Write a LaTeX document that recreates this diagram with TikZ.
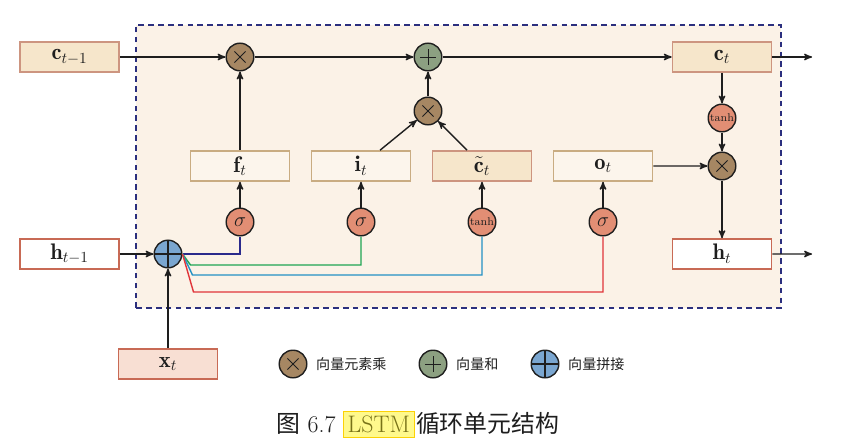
\documentclass[tikz,border=0pt]{standalone}
\usepackage{amsmath,amssymb}
\usepackage{fontspec}
\newfontfamily\cjk{Noto Sans CJK SC}
\usetikzlibrary{shapes,arrows,positioning,calc}
\definecolor{cellbg}{HTML}{FBF2E7}
\definecolor{navydash}{HTML}{2B2F7E}
\definecolor{statefill}{HTML}{F6E6CB}
\definecolor{stateedge}{HTML}{CD9580}
\definecolor{gatefill}{HTML}{FCF5EC}
\definecolor{gateedge}{HTML}{C9AC82}
\definecolor{hidedge}{HTML}{C86A55}
\definecolor{xfill}{HTML}{F8DFD3}
\definecolor{multfill}{HTML}{A68763}
\definecolor{addfill}{HTML}{8CA081}
\definecolor{catfill}{HTML}{7AA6D0}
\definecolor{actfill}{HTML}{E28E74}
\definecolor{fline}{HTML}{2A2A8C}
\definecolor{iline}{HTML}{1FA552}
\definecolor{gline}{HTML}{2391C4}
\definecolor{oline}{HTML}{E0353A}
\definecolor{inkc}{HTML}{1E1E1E}
\tikzstyle{box} = [rectangle, draw, line width=1.1pt, minimum width=2.475cm, minimum height=0.75cm, font=\fontsize{16}{18}\selectfont]
\tikzstyle{statebox} = [box, draw=stateedge, fill=statefill]
\tikzstyle{gatebox} = [box, draw=gateedge, fill=gatefill]
\tikzstyle{hidbox} = [box, draw=hidedge, fill=white]
\tikzstyle{op} = [circle, draw=inkc, line width=1pt, minimum size=0.69cm, inner sep=0pt]
\tikzstyle{mult} = [op, fill=multfill, path picture={
    \draw[inkc, line width=0.6pt] ($(path picture bounding box.center)+(-0.14,-0.14)$) -- ($(path picture bounding box.center)+(0.14,0.14)$)
    ($(path picture bounding box.center)+(-0.14,0.14)$) -- ($(path picture bounding box.center)+(0.14,-0.14)$);}]
\tikzstyle{addop} = [op, fill=addfill, path picture={
    \draw[inkc, line width=0.7pt] ($(path picture bounding box.center)+(-0.2,0)$) -- ($(path picture bounding box.center)+(0.2,0)$)
    ($(path picture bounding box.center)+(0,-0.2)$) -- ($(path picture bounding box.center)+(0,0.2)$);}]
\tikzstyle{concat} = [op, fill=catfill, path picture={
    \draw[inkc, line width=1pt] (path picture bounding box.west) -- (path picture bounding box.east)
    (path picture bounding box.south) -- (path picture bounding box.north);}]
\tikzstyle{act} = [op, fill=actfill, font=\fontsize{15}{17}\selectfont]
\tikzstyle{tanhop} = [act, font=\fontsize{8}{9}\selectfont]
\tikzstyle{legend} = [font=\cjk\fontsize{10}{12}\selectfont, text=inkc, inner sep=0pt]
\tikzstyle{output} = [coordinate]

\begin{document}
\begin{tikzpicture}[auto, node distance=3.025cm, >=stealth', line width=1pt, inkc]
    \useasboundingbox (0,0) rectangle (21.2,11.1);
    % 单元背景
    \draw[navydash, fill=cellbg, line width=1.4pt, dash pattern=on 4pt off 3pt] (3.4,3.4) rectangle (19.525,10.475);

    % 状态与输入
    \node[statebox] (ct1) at (1.7375,9.675) {$\mathbf{c}_{t-1}$};
    \node[hidbox] (ht1) at (1.7375,4.75) {$\mathbf{h}_{t-1}$};
    \node[hidbox, fill=xfill] (xt) at (4.2,2.0) {$\mathbf{x}_t$};
    \node[concat] (cat) at (4.2,4.75) {};

    % 门
    \node[gatebox] (ft) at (6.0,6.95) {$\mathbf{f}_t$};
    \node[gatebox, right of=ft] (it) {$\mathbf{i}_t$};
    \node[statebox, right of=it] (gt) {$\tilde{\mathbf{c}}_t$};
    \node[gatebox, right of=gt] (ot) {$\mathbf{o}_t$};
    \node[act, below of=ft, node distance=1.4cm] (sf) {$\sigma$};
    \node[act, below of=it, node distance=1.4cm] (si) {$\sigma$};
    \node[tanhop, below of=gt, node distance=1.4cm] (sg) {tanh};
    \node[act, below of=ot, node distance=1.4cm] (so) {$\sigma$};

    % 细胞状态
    \node[mult] (mf) at (6.0,9.675) {};
    \node[mult] (mi) at (10.7,8.325) {};
    \node[addop, above of=mi, node distance=1.35cm] (add) {};
    \node[statebox] (ct) at (18.05,9.675) {$\mathbf{c}_t$};
    \node[tanhop, below of=ct, node distance=1.525cm] (tc) {tanh};
    \node[mult, below of=tc, node distance=1.2cm] (mo) {};
    \node[hidbox, below of=mo, node distance=2.2cm] (ht) {$\mathbf{h}_t$};
    \node[output] (cout) at (20.3,9.675) {};
    \node[output] (hout) at (20.3,4.75) {};

    % 路径
    \draw[->] (ct1) -- (mf);
    \draw[->] (mf) -- (add);
    \draw[->] (add) -- (ct);
    \draw[->] (ct) -- (cout);
    \draw[->] (ft) -- (mf);
    \draw[->] ([xshift=0.475cm]it.north) -- (mi);
    \draw[->] ([xshift=-0.375cm]gt.north) -- (mi);
    \draw[->] (mi) -- (add);
    \draw[->] (ct) -- (tc);
    \draw[->] (tc) -- (mo);
    \draw[->] (ot) -- (mo);
    \draw[->] (mo) -- (ht);
    \draw[->] (ht) -- (hout);
    \draw[->] (ht1) -- (cat);
    \draw[->] (xt) -- (cat);
    \draw[->] (sf) -- (ft);
    \draw[->] (si) -- (it);
    \draw[->] (sg) -- (gt);
    \draw[->] (so) -- (ot);

    % 拼接后分支
    \draw[fline] (cat.east) -| (sf.south);
    \draw[iline] (cat.east) -- ++(0.2,-0.275) -| (si.south);
    \draw[gline] (cat.east) -- ++(0.25,-0.525) -| (sg.south);
    \draw[oline] (cat.east) -- ++(0.275,-0.95) -| (so.south);

    % 图例
    \node[mult] (lm) at (7.325,2.0) {};
    \node[legend, right=0.2cm of lm] (lmt) {向量元素乘};
    \node[addop] (la) at (10.825,2.0) {};
    \node[legend, right=0.2cm of la] (lat) {向量和};
    \node[concat] (lc) at (13.625,2.0) {};
    \node[legend, right=0.2cm of lc] (lct) {向量拼接};

    \node[font=\fontsize{17}{20}\selectfont, text=inkc, inner sep=0pt] (cap) at (10.45,0.5)
        {{\cjk 图} 6.7 \fcolorbox{yellow!70!orange}{yellow!45}{\textcolor{olive!80!black}{LSTM}}\hspace{1pt}{\cjk 循环单元结构}};
\end{tikzpicture}
\end{document}
